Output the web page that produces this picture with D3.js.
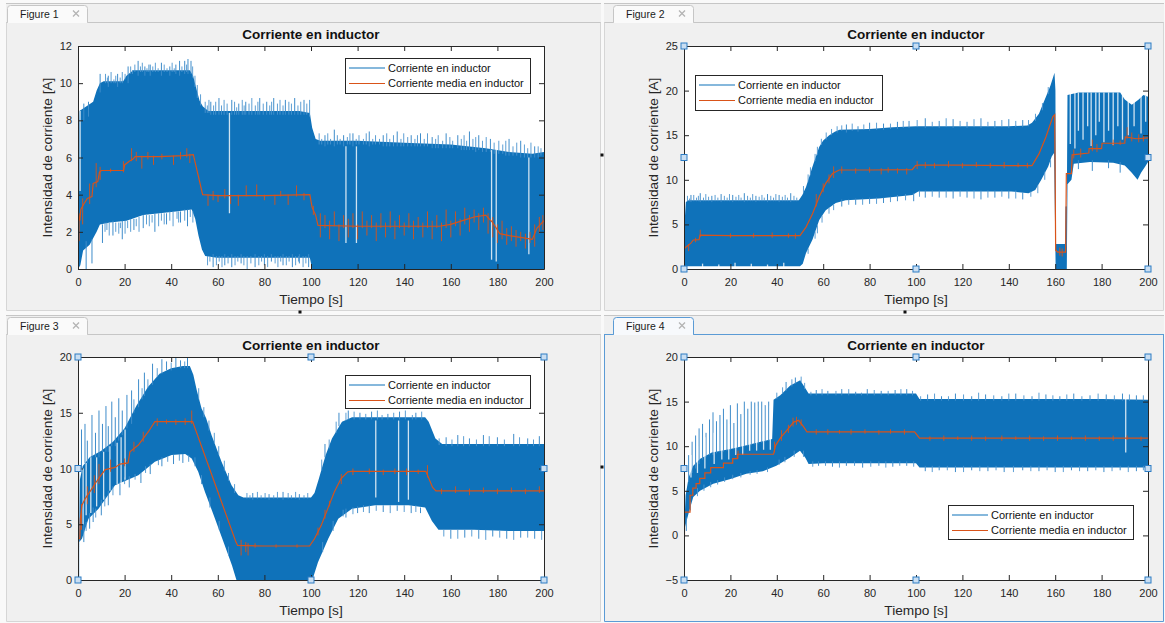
<!DOCTYPE html>
<html>
<head>
<meta charset="utf-8">
<script src="https://cdn.jsdelivr.net/npm/d3@7"></script>
<style>
  html, body { margin: 0; padding: 0; background: #f9f9f9; overflow: hidden; }
  svg { display: block; }
  text { font-family: "Liberation Sans", Arial, Helvetica, sans-serif; }
</style>
</head>
<body>
<svg id="chart" width="1165" height="623"></svg>
<script>
// ---------------------------------------------------------------------------
// Shared text and ticks
// ---------------------------------------------------------------------------
const chartTitle = "Corriente en inductor";
const xLabel = "Tiempo [s]";
const yLabel = "Intensidad de corriente [A]";
const seriesNames = ["Corriente en inductor", "Corriente media en inductor"];
const tabLabels = ["Figure 1", "Figure 2", "Figure 3", "Figure 4"];
const timeTicks = [0, 20, 40, 60, 80, 100, 120, 140, 160, 180, 200];

// ---------------------------------------------------------------------------
// Figure 1 — envelopes of the switched current [t (s), A], mean current,
// individual switching excursions [t, from, to], edge ripple [t, from, to]
// and dropouts [t, from, to]
// ---------------------------------------------------------------------------
const fig1YTicks = [0, 2, 4, 6, 8, 10, 12];
const fig1Upper = [[0,0],[0.2,6.8],[0.6,8.5],[3,8.7],[6.5,9.0],[8,9.6],[9.4,10.0],[11,10.1],[19.4,10.1],[20.8,10.4],[23.7,10.7],[30,10.7],[40,10.7],[48,10.7],[49.4,10.4],[50.8,9.7],[52.2,9.05],[53.6,8.75],[56,8.5],[65,8.5],[75,8.5],[85,8.5],[95,8.5],[99.5,8.4],[100.5,7.6],[102,7.0],[104,6.9],[120,6.9],[140,6.8],[160,6.7],[175,6.5],[185,6.3],[195,6.2],[200,6.3]];
const fig1Lower = [[0,0],[1,0.2],[2.2,1.0],[5,1.3],[8,2.0],[9.4,2.4],[13.7,2.5],[20.8,2.6],[28,2.9],[35,3.0],[42,3.1],[48.8,3.2],[50.3,2.7],[51.7,1.8],[53.2,1.05],[54.6,0.7],[59.6,0.6],[70,0.6],[80,0.6],[90,0.6],[99.5,0.6],[100.5,0],[200,0]];
const fig1Mean = [[0,0],[0.05,3.0],[0.8,2.6],[1.2,3.2],[2.5,3.5],[4,3.8],[6,3.9],[6.5,4.6],[8.5,4.7],[9.2,5.2],[10,5.3],[19.6,5.3],[20,5.6],[22,5.8],[23.5,5.9],[24.5,6.05],[35,6.05],[45,6.1],[49.5,6.15],[53.5,4.0],[60,3.95],[80,3.95],[99.5,4.0],[100.5,3.3],[102,2.9],[103,2.35],[120,2.3],[140,2.3],[155,2.3],[160,2.4],[165,2.6],[170,2.8],[175,2.9],[178,2.5],[181,1.9],[185,1.8],[190,1.7],[195,1.6],[197,2.2],[200,2.6]];
const fig1Spikes = [[2.5,8.0,8.9],[4.5,8.2,9.0],[9.5,9.5,10.5],[13,9.8,10.4],[17,9.8,10.5],[21.5,10.0,10.9],[25.8,10.4,11.2],[28.7,10.4,10.9],[31,10.4,11.0],[35.8,10.4,11.1],[39.4,10.4,10.9],[42,10.5,11.0],[43.6,10.4,11.2],[45.8,10.5,11.2],[47.2,10.5,11.3],[48.5,10.5,11.2],[57,8.3,9.0],[60.5,8.3,9.2],[66,8.3,9.1],[69,8.3,8.9],[72,8.3,9.0],[78,8.3,9.2],[81,8.3,9.0],[84,8.3,9.2],[89,8.3,9.1],[93,8.3,9.2],[97,8.3,9.1],[106,6.6,7.2],[110,6.6,7.5],[114,6.6,7.2],[118,6.6,7.3],[125,6.6,7.4],[131,6.6,7.2],[137,6.6,7.4],[143,6.6,7.2],[147,6.6,7.3],[152,6.5,7.1],[158,6.5,7.3],[163,6.5,7.2],[168,6.4,7.4],[172,6.4,7.2],[177,6.3,7.0],[185,6.1,7.0],[190,6.0,6.9],[196,6.0,6.6],
  [3.5,0,1.5],[6,0.3,1.6],[10.5,1.4,2.4],[15,1.8,2.6],[19,1.6,2.6],[24,2.1,2.7],[28,2.2,2.9],[33,2.0,3.0],[38,2.4,3.0],[44,2.5,3.1],[47,2.3,3.2],[58,0.1,0.8],[63,0.2,0.8],[66,0.1,0.8],[70,0.3,0.8],[76,0.1,0.8],[80,0.2,0.8],[83,0.4,0.8],[88,0.2,0.8],[92,0.1,0.8],[95,0.3,0.8],[99,0.1,0.8]];
const fig1Ripple = [[11.8,10.0,10.5],[12.6,10.0,10.3],[14.2,10.0,10.6],[15.4,10.0,10.2],[16.2,10.0,10.4],[18.1,10.0,10.3],[19.0,10.0,10.6],[20.2,10.2,10.5],[22.6,10.5,10.9],[23.4,10.5,10.7],[24.4,10.6,11.0],[26.8,10.6,10.9],[27.6,10.6,11.1],[29.6,10.6,10.8],[30.4,10.6,11.0],[32.1,10.6,10.9],[33.2,10.6,11.1],[34.4,10.6,10.8],[37,10.6,11.0],[38.2,10.6,10.8],[40.4,10.6,11.1],[41.3,10.6,10.8],[44.6,10.6,10.9],[46.6,10.6,11.0],[49.2,10.3,10.9],[50.2,9.8,10.4],[51.2,9.2,9.9],[52.6,8.8,9.4],
  [54.6,8.4,9.0],[55.5,8.4,8.8],[56.2,8.4,9.1],[58.2,8.3,8.8],[59.1,8.3,9.0],[61.6,8.3,8.8],[62.7,8.3,9.1],[64,8.3,8.9],[67.2,8.3,9.0],[68.1,8.3,8.7],[70.5,8.3,9.1],[71.3,8.3,8.8],[73.4,8.3,8.9],[74.6,8.3,9.2],[76.1,8.3,8.8],[77.2,8.3,9.0],[79.5,8.3,8.9],[82.3,8.3,8.8],[83.1,8.3,9.0],[85.6,8.3,8.9],[86.7,8.3,9.1],[88,8.3,8.8],[90.5,8.3,9.0],[91.6,8.3,8.9],[94.4,8.3,8.8],[95.6,8.3,9.0],[98.2,8.3,8.9],[99.4,8.2,9.1],
  [103.5,6.7,7.3],[104.6,6.7,7.0],[107.2,6.7,7.3],[108.4,6.7,7.0],[111.3,6.7,7.2],[112.5,6.7,7.0],[115.6,6.7,7.1],[116.7,6.7,7.3],[119.4,6.7,7.0],[120.6,6.7,7.2],[122.5,6.7,7.0],[123.7,6.7,7.3],[126.5,6.7,7.0],[127.7,6.7,7.2],[129.4,6.7,7.0],[132.5,6.6,7.3],[133.8,6.6,7.0],[135.4,6.6,7.2],[138.6,6.6,7.0],[139.8,6.6,7.3],[141.5,6.6,7.1],[144.6,6.6,7.0],[145.7,6.6,7.2],[148.6,6.6,7.0],[150,6.6,7.3],[153.5,6.5,7.0],[154.6,6.5,7.2],[156.5,6.5,6.9],[159.6,6.5,7.1],[160.8,6.5,6.9],[164.5,6.4,7.0],[165.7,6.4,7.2],[166.8,6.4,6.9],[169.5,6.4,7.0],[170.7,6.3,7.1],[173.6,6.3,6.9],[175.2,6.3,7.1],[178.6,6.2,6.8],[180.6,6.2,6.9],[182.3,6.2,6.7],[183.6,6.1,6.9],[186.7,6.1,6.6],[188.3,6.1,6.8],[191.6,6.0,6.7],[193,6.0,6.5],[194.4,6.0,6.8],[197.5,6.0,6.6],[198.7,6.1,6.5],
  [11.6,2.0,2.5],[12.4,2.1,2.5],[13.4,1.8,2.5],[16.2,2.0,2.5],[17.5,1.9,2.5],[18.2,2.2,2.5],[20.2,1.9,2.6],[21.3,2.2,2.6],[22.6,2.0,2.7],[25,2.3,2.7],[26.2,2.0,2.8],[29.4,2.4,2.9],[30.6,2.3,2.9],[31.8,2.5,2.9],[34.6,2.3,3.0],[35.8,2.6,3.0],[37,2.4,3.0],[39.4,2.6,3.1],[40.8,2.3,3.1],[42.5,2.7,3.1],[43.2,2.5,3.1],[45.8,2.6,3.2],[48.2,2.8,3.2],[49.3,2.5,3.1],
  [55.6,0.2,0.7],[56.6,0.4,0.7],[59.4,0.2,0.7],[60.6,0.4,0.7],[61.8,0.1,0.7],[64.4,0.3,0.7],[67.4,0.2,0.7],[68.6,0.4,0.7],[71.2,0.2,0.7],[72.6,0.0,0.7],[74.2,0.3,0.7],[77.6,0.2,0.7],[78.8,0.4,0.7],[81.4,0.1,0.7],[84.6,0.3,0.7],[85.8,0.1,0.7],[87,0.4,0.7],[89.4,0.2,0.7],[90.6,0.4,0.7],[93.4,0.2,0.7],[94.6,0.4,0.7],[96.6,0.1,0.7],[97.8,0.3,0.7]];
const fig1Gaps = [[0.9,4.2,8.5],[65,3.0,8.4],[115,1.4,6.6],[119.5,1.4,6.6],[177.5,0.5,6.4],[179.5,0.4,6.4],[193.5,0.8,6.0]];
const fig1MeanSpikes = [[0.5,1.5,3.0],[2,2.4,3.8],[5,3.5,4.6],[7.8,4.4,5.7],[9.5,4.8,5.5],[14,5.2,5.4],[19.5,5.2,5.8],[23,5.8,6.5],[25,5.8,6.3],[27.4,5.4,6.1],[30,5.9,6.3],[32.4,5.6,6.1],[36,5.9,6.2],[41,5.6,6.1],[44,5.9,6.3],[46.7,6.0,6.5],[48,5.7,6.2],[55.8,3.4,4.0],[58,3.7,4.2],[60.1,3.6,4.0],[63,3.8,4.3],[65.5,3.5,4.0],[68.8,3.4,4.0],[72.2,3.9,4.5],[76.7,3.9,4.55],[80,3.7,4.0],[84.5,3.45,4.0],[87,3.9,4.2],[90.2,3.45,4.0],[93.8,3.9,4.5],[97,3.7,4.1],[101,2.9,3.4],
  [104,1.7,3.0],[106,2.2,2.9],[108,1.6,2.6],[110,2.3,3.1],[112,1.5,2.4],[114,2.2,2.9],[116,1.7,2.7],[118,2.2,3.0],[120,1.6,2.4],[122,2.2,3.1],[124,1.8,2.6],[126,2.2,2.9],[128,1.5,2.5],[130,2.2,3.0],[132,1.7,2.5],[134,2.2,3.1],[136,1.6,2.6],[138,2.2,2.9],[140,1.8,2.5],[142,2.2,3.0],[144,1.6,2.6],[146,2.2,2.8],[148,1.7,2.5],[150,2.2,3.1],[152,1.6,2.6],[154,2.2,2.9],[156,1.5,2.5],[158,2.2,3.2],[160,1.7,2.6],[162,2.3,3.1],[164,1.8,2.7],[166,2.4,3.3],[168,2.0,2.9],[170,2.5,3.2],[172,2.1,3.0],[174,2.5,3.3],[176,1.9,3.0],[178,1.7,2.8],[180,1.4,2.4],[182,1.6,2.6],[184,1.3,2.2],[186,1.5,2.3],[188,1.2,2.1],[190,1.5,2.0],[192,1.1,1.9],[194,1.4,2.0],[196,1.2,2.4],[198,1.9,2.8],[199.5,2.1,2.9]];

// ---------------------------------------------------------------------------
// Figure 2
// ---------------------------------------------------------------------------
const fig2YTicks = [0, 5, 10, 15, 20, 25];
const fig2Upper = [[0,0],[0.2,5.0],[0.8,7.5],[2,7.7],[10,7.7],[20,7.7],[30,7.7],[40,7.7],[49.5,7.7],[51,8.3],[52.6,9.2],[55.4,11.5],[58.3,13.7],[60,14.4],[62.6,15.0],[65,15.4],[67,15.6],[80,15.7],[90,15.9],[100,16.0],[120,16.0],[140,16.0],[148,16.1],[150,16.4],[153,17.4],[156,19.3],[158,20.6],[159.7,22.0],[160.1,20.0],[160.3,2.8],[164.2,2.8],[164.6,7.0],[165,7.0],[165.3,19.5],[170,19.8],[180,19.8],[188,19.8],[190,19.0],[193,18.4],[196,19.0],[198,19.5],[200,19.3]];
const fig2Lower = [[0,0],[0.5,0.3],[50,0.3],[51.2,0.6],[52.6,1.8],[55.4,3.3],[58.3,5.5],[61.1,6.6],[65.4,7.4],[69.7,7.7],[84,7.9],[98.4,8.3],[101,8.7],[112,8.7],[141,8.7],[148.5,8.5],[151.4,8.85],[154,10.0],[157,11.5],[158.5,12.6],[159.5,13.0],[160.2,0],[165,0],[165.3,9.5],[167,10.0],[168,11.8],[175,12.0],[185,11.9],[190,11.6],[193,10.8],[195.5,10.0],[197,10.8],[198.8,11.5],[200,12.0]];
const fig2Mean = [[0,0],[0.2,2.3],[1,2.5],[3,2.9],[4,3.25],[6.5,3.3],[6.9,3.8],[20,3.75],[40,3.75],[50,3.75],[52.6,4.7],[55.4,6.2],[58.3,8.1],[61.1,9.6],[64,10.7],[66.9,11.1],[80,11.1],[98.4,11.15],[99.8,11.6],[101,11.65],[120,11.65],[140,11.6],[150,11.6],[153,12.9],[156,14.8],[159,17.1],[159.8,17.3],[160.2,2.1],[161,1.9],[164.5,1.9],[164.8,10.7],[167,10.7],[167.3,12.8],[174.5,13.0],[174.6,13.5],[180,13.5],[180.2,14.1],[190,14.1],[190.2,14.8],[195,14.6],[200,14.7]];
const fig2Spikes = [[3,7.5,8.3],[7,7.5,8.5],[12,7.5,8.2],[16,7.5,8.4],[21,7.5,8.3],[26,7.5,8.5],[31,7.5,8.2],[36,7.5,8.4],[41,7.5,8.3],[46,7.5,8.5],[70,15.3,16.2],[75,15.4,16.0],[80,15.5,16.4],[86,15.6,16.3],[92,15.7,16.5],[97,15.8,16.6],[104,15.8,16.9],[110,15.8,16.6],[116,15.8,16.8],[122,15.8,16.5],[128,15.8,16.9],[134,15.8,16.6],[140,15.8,16.8],[146,15.9,16.7],[164.6,2.5,7.0],
  [68,7.0,7.8],[74,7.2,7.9],[80,7.3,8.0],[86,7.4,8.0],[92,7.6,8.3],[99,7.6,8.5],[104,8.0,8.8],[110,8.0,8.8],[116,7.9,8.8],[122,8.0,8.8],[128,7.8,8.8],[134,8.0,8.8],[140,7.9,8.8],[146,7.8,8.6],[170,11.2,12.2],[176,11.0,12.2],[183,11.3,12.2],[188,10.8,12.0]];
const fig2Ripple = [[1.5,7.6,8.2],[2.4,7.6,7.9],[4.2,7.6,8.3],[5.4,7.6,8.0],[6.2,7.6,8.2],[8.4,7.6,8.0],[9.4,7.6,8.4],[10.6,7.6,8.1],[13.4,7.6,8.3],[14.6,7.6,8.0],[17.4,7.6,8.2],[18.6,7.6,8.0],[19.6,7.6,8.4],[22.4,7.6,8.1],[23.6,7.6,8.3],[24.6,7.6,8.0],[27.4,7.6,8.2],[28.6,7.6,8.0],[29.6,7.6,8.4],[32.4,7.6,8.1],[33.6,7.6,8.3],[34.6,7.6,8.0],[37.4,7.6,8.2],[38.6,7.6,8.0],[39.6,7.6,8.4],[42.4,7.6,8.1],[43.6,7.6,8.3],[44.6,7.6,8.0],[47.4,7.6,8.2],[48.6,7.6,8.0],
  [51.5,8.5,9.3],[53.5,9.8,10.6],[54.5,10.5,11.4],[56.5,12.1,12.9],[57.5,12.8,13.7],[59.2,13.9,14.6],[61.3,14.5,15.3],[63.6,15.0,15.7],[66,15.3,16.0],
  [53.5,1.7,2.3],[56.5,3.4,4.2],[57.5,4.0,4.9],[59.5,5.2,6.0],[62.5,6.2,6.9],[64.5,6.6,7.2],
  [68,15.5,16.1],[72.5,15.5,16.3],[77.5,15.6,16.2],[83,15.6,16.4],[89,15.7,16.3],[94.5,15.8,16.6],[100.5,15.9,16.7],[107,15.9,16.5],[113,15.9,16.9],[119,15.9,16.6],[125,15.9,16.8],[131,15.9,16.5],[137,15.9,16.7],[143,15.9,16.6],[148.5,16.0,16.7],
  [71,7.2,7.8],[77,7.2,7.9],[83,7.3,8.0],[89,7.5,8.1],[95.5,7.7,8.4],[101.5,8.1,8.8],[107,8.1,8.8],[113,8.0,8.8],[119,8.1,8.8],[125,7.9,8.8],[131,8.0,8.8],[137,8.1,8.8],[143,7.9,8.8],[149.5,8.1,8.7],
  [151.5,16.6,17.4],[154.5,17.8,18.6],[157,19.6,20.4],[152.5,8.5,9.4],[155.5,10.0,10.9],[158,11.4,12.2]];
const fig2Gaps = [[8,0,0.6],[15,0,0.5],[22,0,0.7],[29,0,0.6],[36,0,0.5],[43,0,0.7],
  [166.5,14,19.8],[168.5,13.5,19.8],[170,15.5,19.8],[172,14.5,19.8],[174,16,19.8],[175.5,13.8,19.8],[177.5,15,19.8],[179,16.5,19.8],[181,14.2,19.8],[183,15.5,19.8],[185,13.9,19.8],[187,16,19.8],[189,14.5,19.8],[191.5,15,19.0],[194,16,18.8],[197,15.2,19.5],[199,16.5,19.4]];
const fig2MeanSpikes = [[2,2.0,2.8],[5,3.0,3.5],[7,3.6,4.4],[20,3.5,4.0],[30,3.5,4.0],[38,3.5,4.1],[45,3.5,4.0],[48,3.4,4.0],[57,7.0,8.4],[60,8.6,9.6],[62.5,9.6,10.6],[64.5,10.2,11.5],[68,10.7,11.5],[74,10.7,11.3],[80,10.8,11.4],[85,10.6,11.3],[88,10.8,11.4],[92,10.7,11.3],[96,10.6,11.3],[100.5,11.2,12.1],[104,11.3,12.0],[108,11.3,11.9],[114,11.4,12.1],[120,11.3,11.9],[126,11.4,12.0],[132,11.3,11.9],[138,11.3,12.0],[144,11.4,11.9],[148,11.3,11.9],[162,1.5,2.4],[163,1.4,2.3],[168,12.4,13.4],[171,12.5,13.5],[176,13.2,14.5],[178,13.1,14.0],[185,13.8,14.5],[188,13.9,14.4],[191,14.6,15.9],[193,14.3,15.3],[196,14.2,15.1],[198,14.3,15.0]];

// ---------------------------------------------------------------------------
// Figure 3
// ---------------------------------------------------------------------------
const fig3YTicks = [0, 5, 10, 15, 20];
const fig3Upper = [[0,0],[0.5,3.5],[0.8,9.0],[2,10.2],[5,11.0],[10,11.6],[15,12.4],[20,13.6],[25,15.6],[30,17.3],[35,18.5],[40,19.0],[45,19.2],[48,19.2],[49.5,18.4],[51,17.0],[53,15.4],[55,14.5],[57.3,13.0],[61.6,10.6],[65.9,8.5],[68.8,7.6],[71,7.4],[80,7.4],[90,7.4],[100,7.4],[101.5,7.8],[103.4,9.1],[106.3,11.2],[109,12.7],[113.3,14.2],[117.6,14.6],[130,14.6],[140,14.6],[149,14.6],[150.5,14.2],[153.4,12.7],[156.3,12.2],[170,12.2],[185,12.2],[200,12.2]];
const fig3Lower = [[0,0],[0.5,3.4],[1.7,3.7],[4.5,5.5],[8.8,6.4],[15.9,8.5],[25.9,9.4],[33,10.6],[40.2,11.2],[46,11.3],[48.8,10.9],[51.6,9.7],[54.5,7.9],[58.8,5.5],[63,3.1],[66.1,1.3],[68,0],[100,0],[100.7,0.1],[103,1.6],[107.4,3.7],[111.7,5.5],[117.6,6.4],[127.6,6.7],[141.9,6.7],[149,6.5],[151.9,5.3],[154.7,4.5],[170,4.5],[185,4.4],[200,4.4]];
const fig3Mean = [[0,0],[0.05,3.7],[0.8,3.7],[1,5.5],[1.7,6.7],[3.1,7.3],[6,8.2],[8.8,9.1],[11.7,9.9],[15.9,10.1],[18,10.4],[21.5,10.5],[22.3,11.5],[25.9,12.1],[30.2,13.3],[33,14.2],[35.9,14.2],[48.8,14.2],[49.2,14.2],[67.8,3.4],[68.5,3.1],[80,3.05],[99.4,3.05],[101.5,3.7],[104.4,4.9],[107.2,6.4],[110,7.9],[112.9,9.1],[115.8,9.7],[117.2,9.75],[130,9.75],[149.3,9.75],[152.2,8.3],[153.6,8.0],[170,8.0],[200,8.0]];
const fig3Spikes = [[0.3,0,10],[1.5,10,13.5],[3,10.5,14.0],[4,10.5,12.5],[6,11,14.8],[7.5,11,13.2],[9,11,15.2],[10.5,11.5,14.0],[12,11.5,15.6],[13,11.5,13.8],[14.5,12,16.0],[16,12,14.6],[17.5,12.5,16.3],[19,13,15.2],[21,13.6,16.6],[23,14,17.0],[26,15.5,18.0],[28.5,16.5,18.6],[32,17.5,19.4],[36,18.5,19.8],[38,18.8,19.6],[42,19,20.0],[44,19,19.7],[47,19,20.0],[75,7.2,7.8],[82,7.2,7.7],[88,7.2,7.9],[95,7.2,7.7],[106,11,12.2],[112,13.8,15.0],[116,14.4,15.2],[121,14.4,15.0],[126,14.4,15.1],[133,14.4,14.9],[138,14.4,15.1],[145,14.4,15.0],[158,12,12.8],[163,12,13.0],[168,12,12.7],[174,12,13.0],[180,12,12.8],[187,12,13.1],[193,12,12.7],[198,12,12.9],
  [2.5,3.4,5],[5,4.6,6],[6.5,5.2,6.5],[10,5.8,7.2],[13,6.7,8.0],[18,7.6,8.8],[22,8.3,9.3],[27,8.7,9.6],[31,9.5,10.4],[36,10.2,11.0],[41,10.4,11.2],[45,10.5,11.3],[115,5.6,6.4],[120,6.0,6.6],[125,6.0,6.7],[131,6.1,6.7],[137,6.2,6.7],[143,6.0,6.7],[147,6.0,6.5],[160,3.7,4.5],[166,3.8,4.5],[172,3.7,4.5],[178,3.9,4.5],[184,3.7,4.4],[190,3.8,4.4],[196,3.7,4.4]];
const fig3Ripple = [[72.5,7.3,7.8],[73.8,7.3,7.6],[77,7.3,7.9],[78.6,7.3,7.6],[80.3,7.3,7.8],[84,7.3,7.6],[85.6,7.3,7.9],[90.2,7.3,7.8],[91.6,7.3,7.6],[93.4,7.3,7.9],[97,7.3,7.6],[98.6,7.3,7.8],
  [51.8,16.2,17.2],[54,14.6,15.5],[56.2,13.4,14.3],[58.5,12.3,13.2],[60.4,11.2,12.0],[62.8,9.8,10.7],[64.6,8.9,9.6],[67.2,7.8,8.6],
  [50.2,10.2,11.0],[53,8.6,9.4],[56.6,6.5,7.4],[60.6,4.5,5.3],[64.6,2.2,3.0],
  [104.6,9.8,10.8],[107.8,11.8,12.6],[110.8,13.2,14.2],[115,14.3,15.0],[105,2.5,3.4],[109.5,4.4,5.3],[113.8,5.7,6.3],
  [118.5,14.4,15.1],[123.5,14.4,14.9],[128.5,14.4,15.2],[130.5,14.4,14.8],[135.5,14.4,15.0],[140.5,14.4,15.2],[143.5,14.4,14.8],[147.5,14.4,15.1],
  [118,5.9,6.5],[122.5,6.1,6.7],[128,6.2,6.7],[134,6.0,6.7],[140,6.1,6.7],[145,6.1,6.7],
  [155,12.1,12.7],[160.5,12,12.6],[165.5,12,12.9],[171,12,12.6],[176.5,12,12.9],[183,12,12.6],[189.5,12,12.8],[195.5,12,12.6],
  [157,3.9,4.5],[163,3.7,4.5],[169,3.9,4.5],[175,3.6,4.5],[181,3.8,4.4],[187,3.6,4.4],[193,3.8,4.4],[199,3.6,4.4],
  [24,15,16.2],[27.5,16.2,17.2],[30,17.2,18.0],[34,18.2,19.0],[40,18.8,19.5],[45.8,19,19.6],
  [3.5,4.4,5.2],[7.6,5.6,6.4],[11.5,6.6,7.5],[15,7.6,8.4],[20,8.6,9.2],[24.5,9.0,9.5],[29,9.6,10.2],[34.5,10.3,10.8],[38.5,10.6,11.1],[43.5,10.7,11.3],[47.5,10.6,11.2]];
const fig3Gaps = [[2.2,5,10],[3.5,5.8,10.5],[5.5,6,11],[8,6.6,11.0],[11,7.2,11.5],[13.7,8,12],[16.8,8.6,12.3],[18.5,8.6,12.8],[20.2,9,13.5],[127.8,7.4,14.3],[137.6,7.0,14.3],[141.8,7.2,14.3]];
const fig3MeanSpikes = [[1.5,4.5,6.8],[4,6.8,8.4],[7,7.8,9.4],[9,8.6,10.4],[14,9.7,10.8],[20,10.2,10.9],[24,11.5,12.4],[28,12.4,13.3],[34,13.8,14.5],[38,14.0,14.4],[42,13.9,14.4],[46,13.9,14.5],[48.8,14.0,15.2],[70,2.2,3.6],[72,2.5,3.4],[73,2.2,3.3],[76,2.9,3.3],[85,2.9,3.2],[94,2.9,3.2],[103,4.0,4.7],[106,5.5,6.3],[108,6.6,7.1],[113,8.6,9.5],[118,9.4,10.0],[125,9.5,10.0],[131,9.4,9.9],[136,9.5,10.0],[141,9.4,10.0],[146,9.5,9.9],[150,9.2,10.3],[156,7.7,8.2],[162,7.8,8.4],[168,7.6,8.2],[174,7.8,8.3],[180,7.7,8.2],[186,7.8,8.3],[192,7.7,8.2],[198,7.8,8.4]];

// ---------------------------------------------------------------------------
// Figure 4
// ---------------------------------------------------------------------------
const fig4YTicks = [-5, 0, 5, 10, 15, 20];
const fig4Upper = [[0,0],[0.3,2.0],[0.7,4.5],[2,6.5],[4,7.8],[7,8.6],[12,9.3],[20,9.7],[27,10.1],[33,10.5],[38,10.8],[38.6,15.2],[41.5,15.7],[45.8,16.8],[50.1,17.4],[52.3,16.5],[53.7,15.9],[60,15.9],[80,15.9],[100,15.9],[101.5,15.3],[120,15.3],[150,15.3],[180,15.3],[200,15.2]];
const fig4Lower = [[0,0],[0.4,0.9],[1.9,2.4],[4,4.3],[6.9,5.0],[12.6,5.8],[19.7,6.3],[26.9,6.9],[34,7.2],[39.8,7.8],[45.6,8.7],[50,9.5],[52.3,8.7],[53.7,8.0],[60,8.1],[80,8.1],[100,8.1],[101.5,7.6],[150,7.6],[200,7.6]];
const fig4Mean = [[0,0],[0.2,0],[0.2,2.6],[2.6,2.6],[2.6,4.5],[3.8,4.5],[3.8,5.3],[5.2,5.3],[5.2,5.8],[6.8,5.8],[6.8,6.4],[9,6.4],[9,7.0],[11.5,7.0],[11.5,7.6],[17,7.6],[17,8.1],[21,8.1],[21,8.6],[23,8.6],[23,9.1],[38.6,9.1],[39.5,10.1],[41.5,10.9],[44.4,11.8],[47.3,12.7],[49.4,12.9],[51.5,12.2],[53,11.6],[70,11.6],[99.4,11.6],[101.5,10.9],[150,10.9],[200,10.9]];
const fig4Spikes = [[2,6,9],[3.5,7,10.5],[5,7.5,11.2],[6.5,8,12.0],[8,8.5,12.5],[9.5,8.8,11.5],[11,9,13.0],[12.5,9,13.8],[14,9.2,12.8],[15.5,9.3,13.5],[17,9.4,14.2],[18.5,9.5,13.0],[20,9.6,14.6],[21.5,9.7,12.6],[23,9.8,14.8],[24.5,9.9,13.6],[26,10,15.0],[27.5,10,14.2],[29,10.1,15.0],[30.5,10.2,14.9],[32,10.3,15.0],[33.5,10.4,15.0],[35,10.5,14.6],[36.5,10.6,15.0],[44,16.2,17.2],[48,17,17.7],[57,15.7,16.3],[62,15.7,16.2],[68,15.7,16.4],[74,15.7,16.1],[79,15.7,16.4],[85,15.7,16.2],[91,15.7,16.3],[96,15.7,16.4],[105,15.1,15.8],[111,15.1,15.6],[117,15.1,15.9],[124,15.1,15.6],[130,15.1,15.8],[137,15.1,15.6],[143,15.1,15.9],[150,15.1,15.6],[156,15.1,15.8],[162,15.1,15.6],[168,15.1,15.9],[175,15.1,15.7],[182,15.1,15.8],[189,15.1,15.9],[195,15.1,15.7],
  [1,0.5,2],[58,7.8,8.3],[64,7.7,8.3],[70,7.8,8.3],[77,7.6,8.3],[84,7.8,8.3],[90,7.7,8.3],[96,7.8,8.3],[104,7.2,7.8],[110,7.3,7.8],[117,7.1,7.8],[124,7.3,7.8],[131,7.2,7.8],[138,7.1,7.8],[146,7.3,7.8],[153,7.2,7.8],[160,7.1,7.8],[167,7.3,7.8],[174,7.2,7.8],[181,7.1,7.8],[188,7.3,7.8],[195,7.2,7.8]];
const fig4Ripple = [[54.7,15.7,16.1],[59.5,15.7,16.4],[65.5,15.7,16.2],[71,15.7,16.4],[76.5,15.7,16.0],[82,15.7,16.3],[88,15.7,16.2],[93.5,15.7,16.4],[98.5,15.7,16.2],
  [102,15.1,15.6],[108,15.1,15.9],[114,15.1,15.6],[120.5,15.1,15.8],[127,15.1,16.0],[133.5,15.1,15.7],[140,15.1,15.9],[146.5,15.1,15.7],[153,15.1,16.0],[159,15.1,15.7],[165,15.1,15.8],[171.5,15.1,15.6],[178.5,15.1,15.9],[185.5,15.1,15.7],[192,15.1,15.8],[198,15.1,15.7],
  [55.5,7.7,8.3],[61,7.8,8.3],[67,7.6,8.3],[73.5,7.8,8.3],[80.5,7.7,8.3],[87,7.6,8.3],[93,7.8,8.3],[99,7.7,8.3],
  [107,7.1,7.8],[113.5,7.3,7.8],[120.5,7.1,7.8],[127.5,7.2,7.8],[134.5,7.3,7.8],[142,7.1,7.8],[149.5,7.2,7.8],[156.5,7.3,7.8],[163.5,7.1,7.8],[170.5,7.2,7.8],[177.5,7.3,7.8],[184.5,7.2,7.8],[191.5,7.1,7.8],[198,7.3,7.8],
  [40,15.3,16.0],[42.5,15.9,16.6],[46.5,16.7,17.5],[50.5,17.2,17.8],[52,16.4,17.1],[41,7.9,8.5],[43.5,8.2,8.8],[47.5,8.8,9.5],[51.5,8.8,9.5],
  [2.8,2.8,3.8],[5.8,4.4,5.3],[8.6,5.0,5.7],[11.5,5.4,6.0],[14.5,5.7,6.2],[17.5,6.0,6.5],[21,6.3,6.8],[24.5,6.5,7.0],[28.5,6.8,7.2],[31.5,6.9,7.3],[36,7.1,7.6]];
const fig4Gaps = [[3,6.5,9],[5.8,7,10],[9,7.5,11],[13,8,11.5],[16.3,8.5,12.5],[19.3,8.5,12.5],[22.3,9,13],[25.3,9,13.5],[28.3,9.5,14],[31.3,9.5,14.5],[34.3,9.6,14.5],[37.2,9.6,14.5],[190.4,9.3,15.5]];
const fig4MeanSpikes = [[23.3,8.6,9.5],[39,9.3,10.5],[42,10.6,11.8],[45,11.5,12.4],[47,12.2,13.2],[48.5,12.4,13.3],[50.5,12.3,13.0],[57,11.3,11.9],[62,11.3,11.9],[67,11.4,11.8],[72,11.3,11.9],[78,11.4,11.9],[84,11.3,11.8],[89,11.4,11.9],[95,11.3,11.9],[106,10.6,11.1],[112,10.6,11.2],[118,10.7,11.1],[124,10.6,11.2],[130,10.6,11.1],[137,10.6,11.2],[143,10.7,11.1],[149,10.6,11.2],[155,10.6,11.1],[161,10.6,11.2],[167,10.7,11.1],[173,10.6,11.2],[179,10.6,11.1],[185,10.6,11.2],[191,10.7,11.2],[197,10.6,11.1]];

// ---------------------------------------------------------------------------
// Layout and styling
// ---------------------------------------------------------------------------
const BLUE = "#0f72ba";
const BLUE_EDGE = "#3e8cca";
const BLUE_RIPPLE = "#4b95cf";
const ORANGE = "#d95319";
const AXIS = "#262626";

const frames = [
  { x0: 6,   x1: 601,  top: 3,   bottom: 310, tabX: 7,   active: false },
  { x0: 604, x1: 1164, top: 3,   bottom: 310, tabX: 613, active: false },
  { x0: 6,   x1: 601,  top: 315, bottom: 621, tabX: 7,   active: false },
  { x0: 604, x1: 1164, top: 315, bottom: 621, tabX: 613, active: true }
];

const panels = [
  { x0: 78,  x1: 544,  yTop: 46,  yBot: 269, legend: [345, 58, 185, 35],  handles: false },
  { x0: 684, x1: 1148, yTop: 46,  yBot: 269, legend: [695, 75, 187, 35],  handles: true },
  { x0: 78,  x1: 544,  yTop: 357, yBot: 580, legend: [345, 375, 185, 33], handles: true },
  { x0: 684, x1: 1148, yTop: 357, yBot: 580, legend: [948, 505, 185, 34], handles: true }
];

const figureData = [
  { yTicks: fig1YTicks, upper: fig1Upper, lower: fig1Lower, mean: fig1Mean, spikes: fig1Spikes, ripple: fig1Ripple, gaps: fig1Gaps, meanSpikes: fig1MeanSpikes },
  { yTicks: fig2YTicks, upper: fig2Upper, lower: fig2Lower, mean: fig2Mean, spikes: fig2Spikes, ripple: fig2Ripple, gaps: fig2Gaps, meanSpikes: fig2MeanSpikes },
  { yTicks: fig3YTicks, upper: fig3Upper, lower: fig3Lower, mean: fig3Mean, spikes: fig3Spikes, ripple: fig3Ripple, gaps: fig3Gaps, meanSpikes: fig3MeanSpikes },
  { yTicks: fig4YTicks, upper: fig4Upper, lower: fig4Lower, mean: fig4Mean, spikes: fig4Spikes, ripple: fig4Ripple, gaps: fig4Gaps, meanSpikes: fig4MeanSpikes }
];

const svg = d3.select("#chart");
svg.append("rect").attr("width", 1165).attr("height", 623).attr("fill", "#f9f9f9");
const defs = svg.append("defs");

// ---------------------------------------------------------------------------
// Docked figure windows with their tabs
// ---------------------------------------------------------------------------
function drawFrame(f, label) {
  const g = svg.append("g");
  const tabBottom = f.top + 19.5;
  const border = f.active ? "#5b9bd5" : "#c6c6c6";
  g.append("rect").attr("x", f.x0).attr("y", f.top)
    .attr("width", f.x1 - f.x0).attr("height", f.bottom - f.top).attr("fill", "#f0f0f0");
  g.append("line").attr("x1", f.x0).attr("x2", f.x1).attr("y1", f.top + 0.5).attr("y2", f.top + 0.5)
    .attr("stroke", "#c6c6c6");
  g.append("line").attr("x1", f.x0).attr("x2", f.x1).attr("y1", tabBottom).attr("y2", tabBottom)
    .attr("stroke", border);
  g.append("path")
    .attr("d", `M${f.x0 + 0.5},${tabBottom} V${f.bottom + 0.5} H${f.x1 - 0.5} V${tabBottom}`)
    .attr("fill", "none").attr("stroke", f.active ? "#5b9bd5" : "#d6d6d6");
  const tx0 = f.tabX + 0.5, tx1 = f.tabX + 80.5, ty0 = f.top + 2.5, r = 3;
  g.append("path")
    .attr("d", `M${tx0},${tabBottom} V${ty0 + r} Q${tx0},${ty0} ${tx0 + r},${ty0} H${tx1 - r} Q${tx1},${ty0} ${tx1},${ty0 + r} V${tabBottom}`)
    .attr("fill", f.active ? "#f7f9fc" : "#fafafa").attr("stroke", border);
  g.append("line").attr("x1", tx0 + 0.5).attr("x2", tx1 - 0.5).attr("y1", tabBottom).attr("y2", tabBottom)
    .attr("stroke", f.active ? "#f7f9fc" : "#fafafa").attr("stroke-width", 1.2);
  g.append("text").attr("x", f.tabX + 13).attr("y", f.top + 14.5)
    .attr("font-size", 10.5).attr("fill", "#1a1a1a").text(label);
  const cx = f.tabX + 69, cy = f.top + 10.5;
  g.append("path").attr("d", `M${cx - 3},${cy - 3} L${cx + 3},${cy + 3} M${cx + 3},${cy - 3} L${cx - 3},${cy + 3}`)
    .attr("stroke", "#b4b4b4").attr("stroke-width", 1.3);
}
frames.forEach((f, i) => drawFrame(f, tabLabels[i]));

// splitter grips between the docked windows
[[602, 155], [300, 312], [905, 312], [602, 467]].forEach(([gx, gy]) => {
  svg.append("rect").attr("x", gx - 1.5).attr("y", gy - 1.5).attr("width", 3).attr("height", 3).attr("fill", "#111");
});

// ---------------------------------------------------------------------------
// One axes per figure
// ---------------------------------------------------------------------------
function drawPanel(p, d, idx) {
  const x = d3.scaleLinear().domain([timeTicks[0], timeTicks[timeTicks.length - 1]]).range([p.x0, p.x1]);
  const y = d3.scaleLinear().domain([d.yTicks[0], d.yTicks[d.yTicks.length - 1]]).range([p.yBot, p.yTop]);
  const g = svg.append("g");

  g.append("rect").attr("x", p.x0).attr("y", p.yTop)
    .attr("width", p.x1 - p.x0).attr("height", p.yBot - p.yTop).attr("fill", "#fff");

  const clipId = "plotclip" + idx;
  defs.append("clipPath").attr("id", clipId).append("rect")
    .attr("x", p.x0).attr("y", p.yTop).attr("width", p.x1 - p.x0).attr("height", p.yBot - p.yTop);
  const plot = g.append("g").attr("clip-path", `url(#${clipId})`);

  const line = d3.line().x(v => x(v[0])).y(v => y(v[1]));
  const segments = (sel, rows, color, width, opacity) =>
    sel.append("g").selectAll("line").data(rows).join("line")
      .attr("x1", v => x(v[0])).attr("x2", v => x(v[0]))
      .attr("y1", v => y(v[1])).attr("y2", v => y(v[2]))
      .attr("stroke", color).attr("stroke-width", width).attr("stroke-opacity", opacity);

  // switched inductor current: filled band between its envelopes
  const outline = d.upper.concat(d.lower.slice().reverse());
  plot.append("path").attr("d", line(outline) + "Z").attr("fill", BLUE);

  // ripple on the band edges and isolated excursions
  segments(plot, d.ripple, BLUE_RIPPLE, 1, 0.9);
  segments(plot, d.spikes, BLUE_EDGE, 1, 1);

  // short dropouts of the waveform
  segments(plot, d.gaps, "#ffffff", 1.3, 0.8);

  // mean current with its ripple
  segments(plot, d.meanSpikes, ORANGE, 0.9, 1);
  plot.append("path").attr("d", line(d.mean))
    .attr("fill", "none").attr("stroke", ORANGE).attr("stroke-width", 1.2);

  // axes, ticks pointing inward on all four sides
  const styleAxis = sel => {
    sel.selectAll("path, line").attr("stroke", AXIS);
    sel.selectAll("text").attr("fill", AXIS).attr("font-size", 11)
      .attr("font-family", '"Liberation Sans", Arial, sans-serif');
  };
  g.append("g").attr("transform", `translate(0,${p.yBot})`)
    .call(d3.axisBottom(x).tickValues(timeTicks).tickSize(-5).tickSizeOuter(0).tickPadding(9))
    .call(styleAxis);
  g.append("g").attr("transform", `translate(0,${p.yTop})`)
    .call(d3.axisTop(x).tickValues(timeTicks).tickSize(-5).tickSizeOuter(0).tickFormat(""))
    .call(styleAxis);
  g.append("g").attr("transform", `translate(${p.x0},0)`)
    .call(d3.axisLeft(y).tickValues(d.yTicks).tickSize(-5).tickSizeOuter(0).tickPadding(6))
    .call(styleAxis);
  g.append("g").attr("transform", `translate(${p.x1},0)`)
    .call(d3.axisRight(y).tickValues(d.yTicks).tickSize(-5).tickSizeOuter(0).tickFormat(""))
    .call(styleAxis);

  // titles
  const cx = (p.x0 + p.x1) / 2;
  g.append("text").attr("x", cx).attr("y", p.yTop - 7).attr("text-anchor", "middle")
    .attr("font-size", 13.5).attr("font-weight", "bold").attr("fill", "#111").text(chartTitle);
  g.append("text").attr("x", cx).attr("y", p.yBot + 35).attr("text-anchor", "middle")
    .attr("font-size", 13.7).attr("fill", AXIS).text(xLabel);
  g.append("text")
    .attr("transform", `translate(${p.x0 - 26},${(p.yTop + p.yBot) / 2}) rotate(-90)`)
    .attr("text-anchor", "middle").attr("font-size", 13.7).attr("fill", AXIS).text(yLabel);

  // legend
  const [lx, ly, lw, lh] = p.legend;
  const lg = g.append("g");
  lg.append("rect").attr("x", lx + 0.5).attr("y", ly + 0.5).attr("width", lw).attr("height", lh)
    .attr("fill", "#fff").attr("stroke", AXIS).attr("stroke-width", 1);
  [BLUE, ORANGE].forEach((c, i) => {
    const ry = ly + 10 + i * 15.5;
    lg.append("line").attr("x1", lx + 4).attr("x2", lx + 40).attr("y1", ry).attr("y2", ry)
      .attr("stroke", c).attr("stroke-width", 1.2);
    lg.append("text").attr("x", lx + 43).attr("y", ry).attr("dy", "0.35em")
      .attr("font-size", 11).attr("fill", "#111").text(seriesNames[i]);
  });

  // selection handles of the axes
  if (p.handles) {
    const mx = (p.x0 + p.x1) / 2, my = (p.yTop + p.yBot) / 2;
    const pts = [[p.x0, p.yTop], [mx, p.yTop], [p.x1, p.yTop], [p.x0, my], [p.x1, my], [p.x0, p.yBot], [mx, p.yBot], [p.x1, p.yBot]];
    g.append("g").selectAll("rect").data(pts).join("rect")
      .attr("x", v => v[0] - 3).attr("y", v => v[1] - 3).attr("width", 6).attr("height", 6)
      .attr("fill", "#c9def2").attr("stroke", "#2d7cc4").attr("stroke-width", 1);
  }
}

panels.forEach((p, i) => drawPanel(p, figureData[i], i));
</script>
</body>
</html>
